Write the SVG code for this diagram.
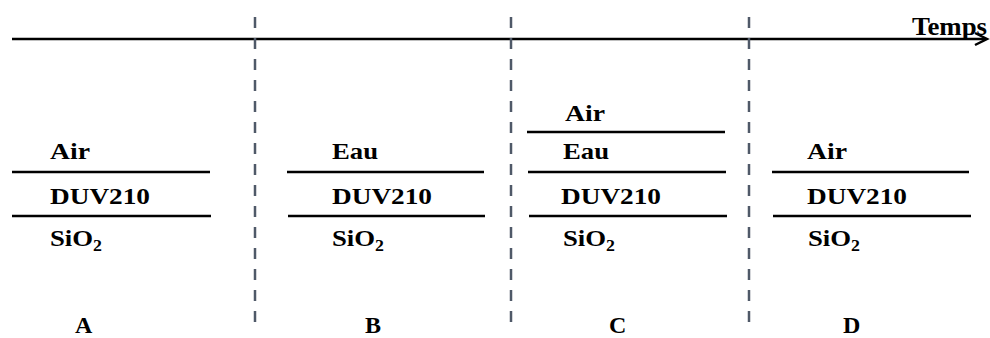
<svg xmlns="http://www.w3.org/2000/svg" width="990" height="338" viewBox="0 0 990 338">
<style>
.t{font-family:"Liberation Serif","Times New Roman",serif;font-weight:bold;font-size:24px;fill:#000}
.s{font-size:16px}
.l{stroke:#000;stroke-width:2.5;fill:none}
.d{stroke:#4f5968;stroke-width:2.5;stroke-dasharray:11 10;fill:none}
</style>
<rect width="990" height="338" fill="#fff"/>
<g id="axis">
<line class="l" x1="12" y1="39" x2="986" y2="39"/>
<path class="l" d="M975 33 L987 39 L975 45"/>
<text class="t" x="912" y="35" style="font-size:26px" textLength="75" lengthAdjust="spacingAndGlyphs">Temps</text>
</g>
<g id="separators">
<line class="d" x1="255" y1="17" x2="255" y2="324"/>
<line class="d" x1="511" y1="17" x2="511" y2="324"/>
<line class="d" x1="749" y1="17" x2="749" y2="324"/>
</g>
<g id="panelA">
<text class="t" x="50" y="159" textLength="40" lengthAdjust="spacingAndGlyphs">Air</text>
<line class="l" x1="12" y1="172" x2="210" y2="172"/>
<text class="t" x="50" y="204" textLength="100" lengthAdjust="spacingAndGlyphs">DUV210</text>
<line class="l" x1="12" y1="216" x2="211" y2="216"/>
<text class="t" x="50" y="246" textLength="52" lengthAdjust="spacingAndGlyphs">SiO<tspan class="s" dy="5">2</tspan></text>
<text class="t" x="75" y="333">A</text>
</g>
<g id="panelB">
<text class="t" x="332" y="159" textLength="46" lengthAdjust="spacingAndGlyphs">Eau</text>
<line class="l" x1="287" y1="172" x2="484" y2="172"/>
<text class="t" x="332" y="204" textLength="100" lengthAdjust="spacingAndGlyphs">DUV210</text>
<line class="l" x1="288" y1="216" x2="485" y2="216"/>
<text class="t" x="332" y="246" textLength="52" lengthAdjust="spacingAndGlyphs">SiO<tspan class="s" dy="5">2</tspan></text>
<text class="t" x="365" y="333">B</text>
</g>
<g id="panelC">
<text class="t" x="565" y="121" textLength="40" lengthAdjust="spacingAndGlyphs">Air</text>
<line class="l" x1="527" y1="132" x2="725" y2="132"/>
<text class="t" x="563" y="159" textLength="46" lengthAdjust="spacingAndGlyphs">Eau</text>
<line class="l" x1="528" y1="172" x2="726" y2="172"/>
<text class="t" x="561" y="204" textLength="100" lengthAdjust="spacingAndGlyphs">DUV210</text>
<line class="l" x1="529" y1="216" x2="727" y2="216"/>
<text class="t" x="563" y="246" textLength="52" lengthAdjust="spacingAndGlyphs">SiO<tspan class="s" dy="5">2</tspan></text>
<text class="t" x="609" y="333">C</text>
</g>
<g id="panelD">
<text class="t" x="807" y="159" textLength="40" lengthAdjust="spacingAndGlyphs">Air</text>
<line class="l" x1="772" y1="172" x2="969" y2="172"/>
<text class="t" x="807" y="204" textLength="100" lengthAdjust="spacingAndGlyphs">DUV210</text>
<line class="l" x1="773" y1="216" x2="971" y2="216"/>
<text class="t" x="808" y="246" textLength="52" lengthAdjust="spacingAndGlyphs">SiO<tspan class="s" dy="5">2</tspan></text>
<text class="t" x="843" y="333">D</text>
</g>
</svg>
